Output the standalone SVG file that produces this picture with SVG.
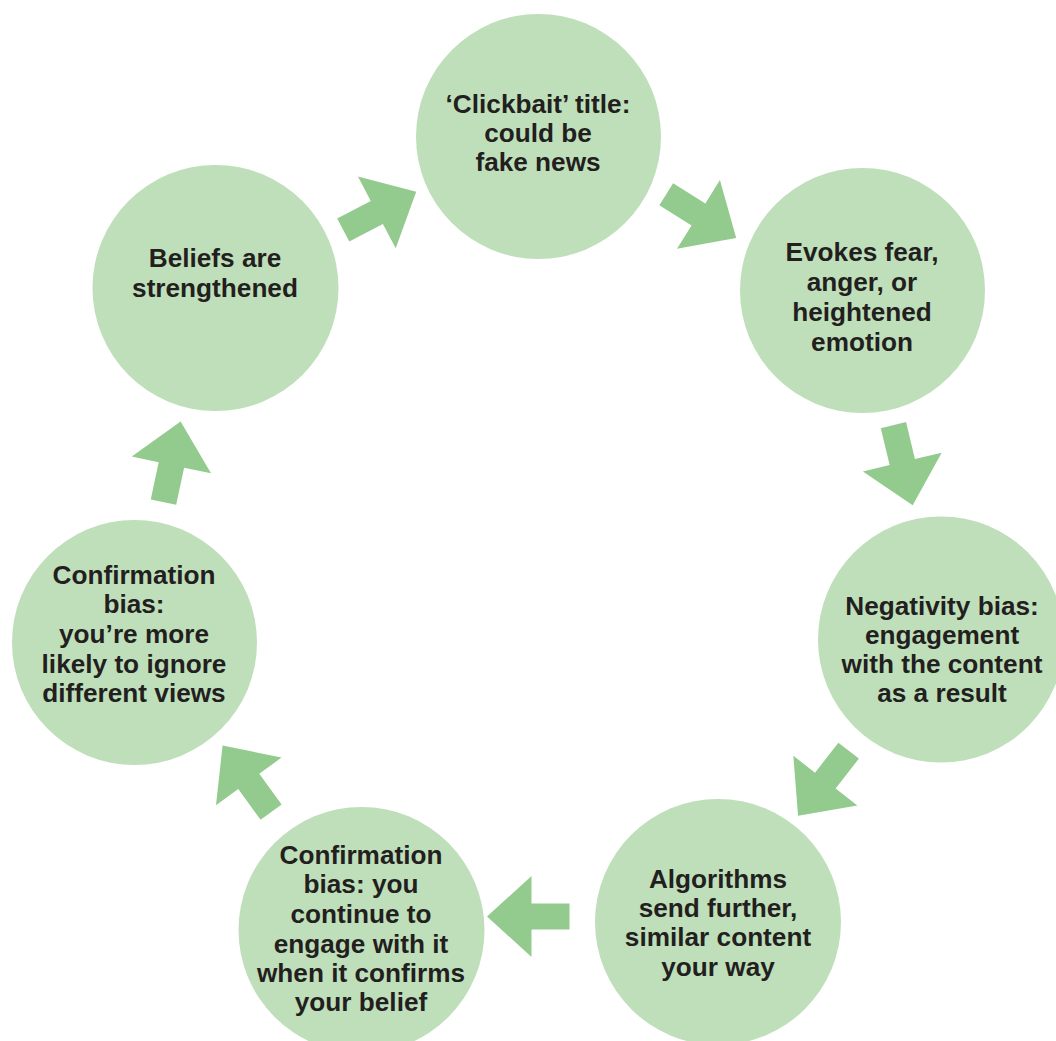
<svg xmlns="http://www.w3.org/2000/svg" width="1056" height="1041" viewBox="0 0 1056 1041">
<defs>
<style>
.node circle{fill:#BFDFBA;}
.node text{font-family:"Liberation Sans",Arial,sans-serif;font-weight:bold;font-size:26.2px;fill:#231F20;text-anchor:middle;}
.arrow{fill:#93CA8D;}
</style>
<path id="arr" d="M-41,-13 L-3,-13 L-3,-40.5 L41.5,0 L-3,40.5 L-3,13 L-41,13 Z"/>
</defs>
<rect width="1056" height="1041" fill="#ffffff"/>
<g id="connectors">
<use href="#arr" class="arrow" transform="translate(379.5,211) rotate(-27.8)"/>
<use href="#arr" class="arrow" transform="translate(701,216) rotate(32)"/>
<use href="#arr" class="arrow" transform="translate(903,465) rotate(76.5)"/>
<use href="#arr" class="arrow" transform="translate(823.5,783) rotate(127.8)"/>
<use href="#arr" class="arrow" transform="translate(528.5,916.5) rotate(180)"/>
<use href="#arr" class="arrow" transform="translate(247,779) rotate(234)"/>
<use href="#arr" class="arrow" transform="translate(172,462) rotate(282)"/>
</g>
<g id="n1" class="node">
<circle cx="538.5" cy="136.5" r="122.5"/>
<text x="538" y="113">‘Clickbait’ title:</text>
<text x="538" y="142">could be</text>
<text x="538" y="171">fake news</text>
</g>
<g id="n2" class="node">
<circle cx="862.5" cy="290.5" r="122.5"/>
<text x="862" y="261">Evokes fear,</text>
<text x="862" y="291">anger, or</text>
<text x="862" y="321">heightened</text>
<text x="862" y="351">emotion</text>
</g>
<g id="n3" class="node">
<circle cx="941" cy="639.5" r="123"/>
<text x="942" y="615">Negativity bias:</text>
<text x="942" y="644">engagement</text>
<text x="942" y="673">with the content</text>
<text x="942" y="702">as a result</text>
</g>
<g id="n4" class="node">
<circle cx="718" cy="922" r="123"/>
<text x="718" y="888">Algorithms</text>
<text x="718" y="917">send further,</text>
<text x="718" y="946">similar content</text>
<text x="718" y="976">your way</text>
</g>
<g id="n5" class="node">
<circle cx="361.5" cy="930" r="123"/>
<text x="361" y="864">Confirmation</text>
<text x="361" y="893">bias: you</text>
<text x="361" y="923">continue to</text>
<text x="361" y="953">engage with it</text>
<text x="361" y="982">when it confirms</text>
<text x="361" y="1011">your belief</text>
</g>
<g id="n6" class="node">
<circle cx="134.5" cy="642.5" r="122.5"/>
<text x="134" y="584">Confirmation</text>
<text x="134" y="613">bias:</text>
<text x="134" y="643">you’re more</text>
<text x="134" y="673">likely to ignore</text>
<text x="134" y="702">different views</text>
</g>
<g id="n7" class="node">
<circle cx="215.5" cy="288" r="123"/>
<text x="215" y="267">Beliefs are</text>
<text x="215" y="297">strengthened</text>
</g>
</svg>
